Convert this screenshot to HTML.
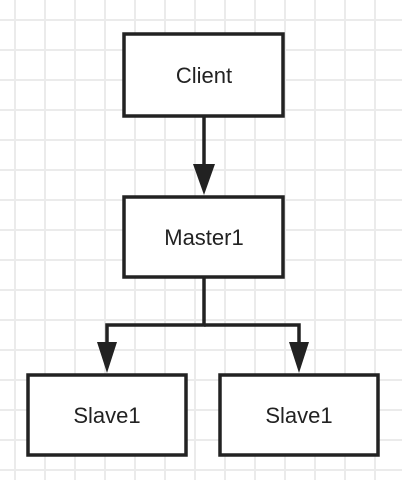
<!DOCTYPE html>
<html><head><style>
body{margin:0;width:402px;height:480px;overflow:hidden;background:#fff;
background-image:linear-gradient(to right,#ebebeb 2px,transparent 2px),linear-gradient(to bottom,#ebebeb 2px,transparent 2px);
background-size:30px 30px;background-position:14px 19px;}
</style></head><body>
<svg width="402" height="480" style="position:absolute;left:0;top:0" font-family="Liberation Sans, sans-serif" font-size="22" fill="#222">
<g stroke="#222" stroke-width="3.5" fill="#fff">
<rect x="124" y="34" width="159" height="82"/>
<rect x="124" y="197" width="159" height="80"/>
<rect x="28" y="375" width="158" height="80"/>
<rect x="220" y="375" width="158" height="80"/>
</g>
<g stroke="#222" stroke-width="3.5" fill="none">
<line x1="204" y1="116" x2="204" y2="172"/>
<polyline points="204,277 204,325 107,325 107,348"/>
<polyline points="204,325 299,325 299,348"/>
</g>
<g fill="#222">
<polygon points="193,164 215,164 204,195"/>
<polygon points="97,342 117,342 107,373"/>
<polygon points="289,342 309,342 299,373"/>
</g>
<g text-anchor="middle">
<text x="204" y="83">Client</text>
<text x="204" y="245">Master1</text>
<text x="107" y="423">Slave1</text>
<text x="299" y="423">Slave1</text>
</g>
</svg>
</body></html>
